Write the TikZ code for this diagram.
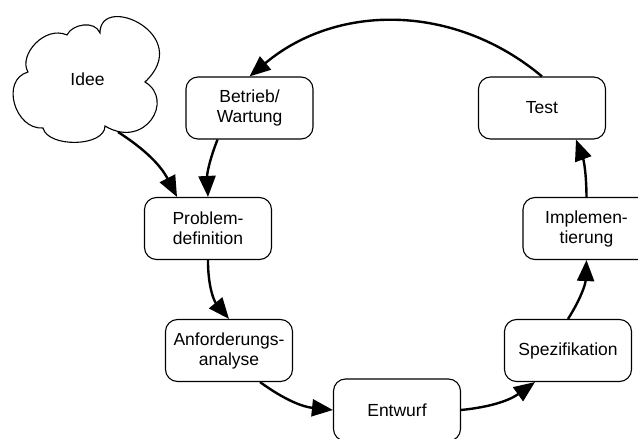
\documentclass[tikz,border=0pt]{standalone}
\usepackage{fontspec}
\setmainfont{Liberation Sans}
\usetikzlibrary{arrows.meta}
\begin{document}
\begin{tikzpicture}[x=1pt,y=1pt,
  phase/.style={draw, line width=1.1pt, rounded corners=12pt,
    minimum width=127pt, minimum height=62pt, inner sep=0pt,
    align=center, font=\fontsize{17.5}{20}\selectfont},
  flow/.style={line width=2.4pt, -{Triangle[length=21pt,width=17pt]}}]
\path[use as bounding box, clip] (0,0) rectangle (638,-439);

% cloud holding the initial idea
\draw[line width=1.1pt, fill=white]
  (28,-72) .. controls (18,-55) and (45,-25) .. (67,-35)
  .. controls (72,-24) and (95,-20) .. (100,-33)
  .. controls (100,8) and (195,-35) .. (145,-82)
  .. controls (175,-100) and (145,-150) .. (105,-126)
  .. controls (105,-147) and (48,-148) .. (43,-128)
  .. controls (15,-130) and (0,-80) .. (28,-72) -- cycle;
\node[font=\fontsize{17.5}{20}\selectfont] (idee) at (87.5,-79.5) {Idee};
\coordinate (ideeout) at (118,-132);

% phases of the cycle
\node[phase] (betrieb) at (249.5,-108) {Betrieb/\\Wartung};
\node[phase] (test)    at (542,-108)   {Test};
\node[phase] (problem) at (208,-228.5) {Problem-\\definition};
\node[phase] (impl)    at (586.5,-228.5) {Implemen-\\tierung};
\node[phase] (anf)     at (229,-350.5) {Anforderungs-\\analyse};
\node[phase] (spez)    at (568,-350.5) {Spezifikation};
\node[phase] (entwurf) at (397,-410)   {Entwurf};

% connectors
\draw[flow] (ideeout) to[bend left=15] ([xshift=-31pt]problem.north);
\draw[flow] ([xshift=-32pt]betrieb.south) to[bend right=12] (problem.north);
\draw[flow] (test.north) to[bend right=40] (betrieb.north);
\draw[flow] (problem.south) to[bend right=20] (anf.north);
\draw[flow] ([xshift=31pt]anf.south) to[bend right=15] (entwurf.west);
\draw[flow] (entwurf.east) to[bend right=15] ([xshift=-33pt]spez.south);
\draw[flow] (spez.north) to[bend right=15] (impl.south);
\draw[flow] (impl.north) to[bend right=10] ([xshift=34pt]test.south);
\end{tikzpicture}
\end{document}
